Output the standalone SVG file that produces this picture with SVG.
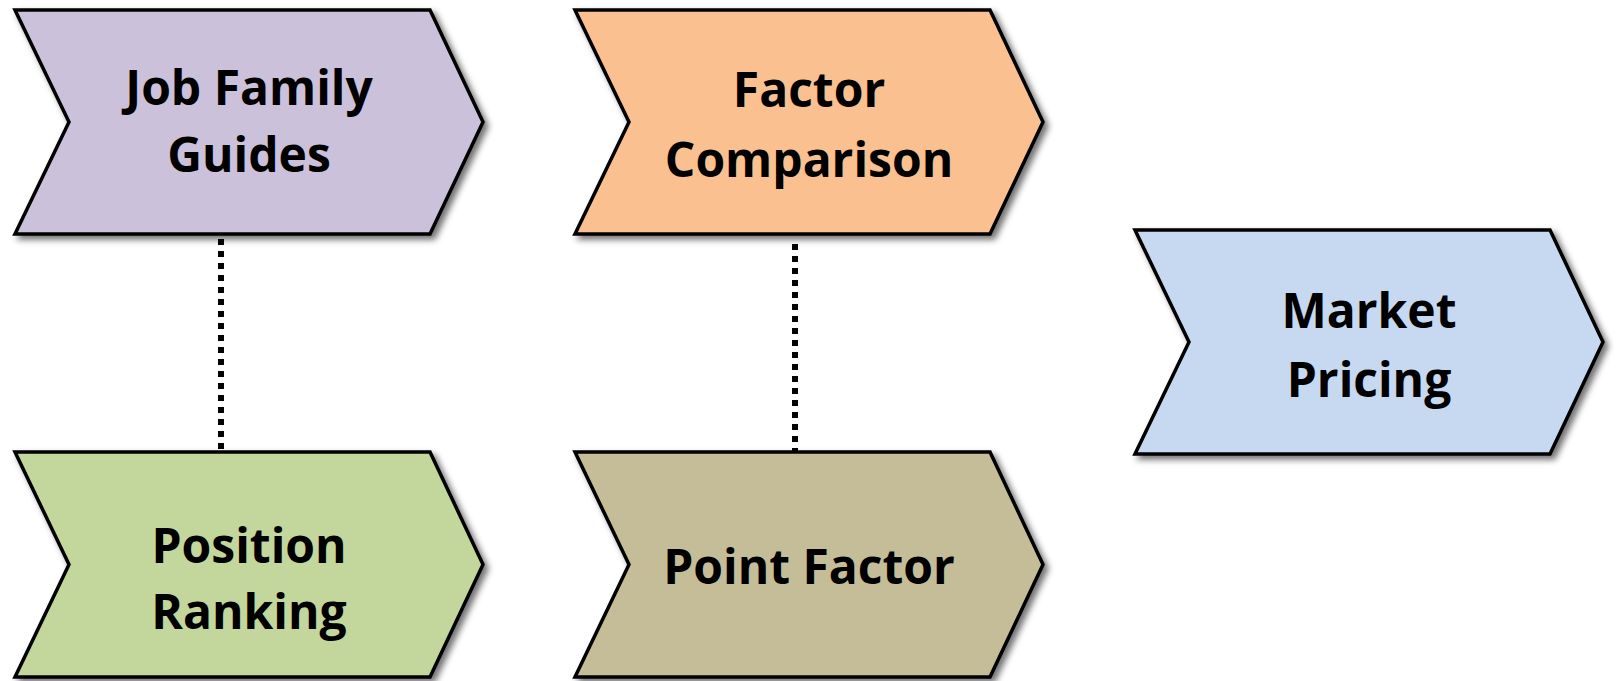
<svg xmlns="http://www.w3.org/2000/svg" width="1616" height="681" viewBox="0 0 1616 681">
  <defs>
    <filter id="shadow" x="-5%" y="-5%" width="115%" height="120%">
      <feDropShadow dx="4" dy="4" stdDeviation="3" flood-color="#000" flood-opacity="0.55"/>
    </filter>
    <!-- chevron shape: 468 wide, notch and point at mid height -->
    <path id="chev-top" d="M0,0 L415,0 L468,112 L415,224 L0,224 L54,112 Z"/>
    <path id="chev-bot" d="M0,0 L415,0 L468,112.5 L415,225 L0,225 L54,112.5 Z"/>
  </defs>
  <style>
    .shape { stroke: #000; stroke-width: 3.5; stroke-linejoin: miter; filter: url(#shadow); }
    .label { font-family: "Open Sans", Lato, "Liberation Sans", sans-serif; font-weight: bold; font-size: 48px; fill: #000; text-anchor: middle; }
    .link { stroke: #000; stroke-width: 6; stroke-dasharray: 6 6; fill: none; }
  </style>
  <rect width="1616" height="681" fill="#fff"/>

  <g id="connectors">
    <line class="link" x1="221" y1="239" x2="221" y2="452"/>
    <line class="link" x1="795" y1="244" x2="795" y2="452"/>
  </g>

  <g id="job-family-guides">
    <use href="#chev-top" class="shape" x="15" y="10" fill="#CCC1DA"/>
    <text class="label" x="249" y="105">Job Family</text>
    <text class="label" x="249" y="172">Guides</text>
  </g>

  <g id="factor-comparison">
    <use href="#chev-top" class="shape" x="575" y="10" fill="#FAC090"/>
    <text class="label" x="809" y="107">Factor</text>
    <text class="label" x="809" y="177">Comparison</text>
  </g>

  <g id="market-pricing">
    <use href="#chev-top" class="shape" x="1135" y="230" fill="#C6D9F1"/>
    <text class="label" x="1369" y="328">Market</text>
    <text class="label" x="1369" y="397">Pricing</text>
  </g>

  <g id="position-ranking">
    <use href="#chev-bot" class="shape" x="15" y="452" fill="#C3D69B"/>
    <text class="label" x="249" y="563">Position</text>
    <text class="label" x="249" y="629">Ranking</text>
  </g>

  <g id="point-factor">
    <use href="#chev-bot" class="shape" x="575" y="452" fill="#C4BD97"/>
    <text class="label" x="809" y="584">Point Factor</text>
  </g>
</svg>
